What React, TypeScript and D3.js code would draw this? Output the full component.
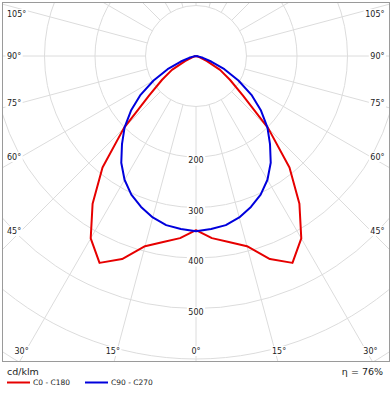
import React from 'react';
import * as d3 from 'd3';

// Gamma angles (degrees from nadir) of the measured data
const gammaAngles = [0, 5, 10, 15, 20, 25, 30, 35, 40, 45, 50, 55, 60, 65, 70, 75, 80, 85, 90];
// C0 - C180 plane (cd/klm)
const c0c180 = [345, 362, 374, 390, 428, 452, 417, 357, 288, 202, 121, 82, 55, 24, 8, 2, 0, 0, 0];
// C90 - C270 plane (cd/klm)
const c90c270 = [347, 344, 340, 331, 318, 303, 283, 258, 228, 200, 168, 134, 97, 62, 32, 14, 4, 0, 0];

const gridCircles = [100, 200, 300, 400, 500, 600, 700, 800];
const valueLabels = [200, 300, 400, 500];
const spokeAngles = [0, 15, 30, 45, 60, 75, 90, 105, 120, 135, 150, 165, 180, 195, 210, 225, 240, 255, 270, 285, 300, 315, 330, 345];
const angleLabels = [0, 15, 30, 45, 60, 75, 90, 105];
const legendItems = ['C0 - C180', 'C90 - C270'];
const unitLabel = 'cd/klm';
const etaLabel = 'η = 76%';

const W = 392;
const H = 400;
const cx = 196;
const cy = 56;
const frame = { x0: 2.5, y0: 2.5, x1: 389.5, y1: 361.5 };
const inset = { x0: 21, x1: 371, y0: 14, y1: 351 };
const FONT = "'DejaVu Sans', Verdana, sans-serif";
const RED = '#e60000';
const BLUE = '#0000dc';
const GRID = '#dcdcdc';
const TEXT = '#222';

const rad = Math.PI / 180;
const r = d3.scaleLinear().domain([0, 100]).range([0, 50.5]);

function curvePath(vals: number[]) {
  const left = gammaAngles.map((g, i) => [Math.PI + g * rad, r(vals[i])] as [number, number]).reverse();
  const right = gammaAngles.slice(1).map((g, i) => [Math.PI - g * rad, r(vals[i + 1])] as [number, number]);
  const line = d3.lineRadial<[number, number]>().angle(d => d[0]).radius(d => d[1]).curve(d3.curveLinear);
  return line([...left, ...right]) || '';
}

function angleLabelPos(g: number, side: number) {
  const dx = Math.sin(g * rad) * side;
  const dy = Math.cos(g * rad);
  let best = Infinity;
  let edge = '';
  if (dy > 1e-9) { const t = (inset.y1 - cy) / dy; if (t < best) { best = t; edge = 'bottom'; } }
  if (dy < -1e-9) { const t = (inset.y0 - cy) / dy; if (t < best) { best = t; edge = 'top'; } }
  if (dx < -1e-9) { const t = (inset.x0 - cx) / dx; if (t < best) { best = t; edge = 'side'; } }
  if (dx > 1e-9) { const t = (inset.x1 - cx) / dx; if (t < best) { best = t; edge = 'side'; } }
  const px = cx + dx * best;
  const py = cy + dy * best;
  if (edge === 'bottom') {
    if (g === 0) return { x: cx, y: inset.y1, anchor: 'middle' };
    return { x: px - side * 3, y: inset.y1, anchor: side < 0 ? 'end' : 'start' };
  }
  return { x: side < 0 ? 7 : 384.5, y: Math.max(py, inset.y0), anchor: side < 0 ? 'start' : 'end' };
}

function textWidth(s: string, size: number) {
  let w = 0;
  for (const ch of s) {
    if (/[0-9]/.test(ch)) w += 0.636;
    else if (ch === '°') w += 0.5;
    else w += 0.6;
  }
  return w * size;
}

export default function App() {
  const labels: { text: string; x: number; y: number; anchor: string }[] = [];
  angleLabels.forEach(g => {
    const sides = g === 0 ? [1] : [-1, 1];
    sides.forEach(s => {
      const p = angleLabelPos(g, s);
      labels.push({ text: `${g}°`, ...p });
    });
  });

  return (
    <svg width={W} height={H} style={{ position: 'absolute', left: 0, top: 0, background: '#fff' }} fontFamily={FONT}>
      <defs>
        <clipPath id="plotClip">
          <rect x={frame.x0} y={frame.y0} width={frame.x1 - frame.x0} height={frame.y1 - frame.y0} />
        </clipPath>
      </defs>
      <rect x={0} y={0} width={W} height={H} fill="#fff" />
      <g clipPath="url(#plotClip)">
        <g transform={`translate(${cx},${cy})`}>
          {gridCircles.map(v => (
            <circle key={v} r={r(v)} fill="none" stroke={GRID} strokeWidth={1} />
          ))}
          {spokeAngles.map(a => {
            const inner = r(100);
            const outer = r(900);
            const dx = Math.sin(a * rad);
            const dy = Math.cos(a * rad);
            return (
              <line key={a} x1={dx * inner} y1={dy * inner} x2={dx * outer} y2={dy * outer} stroke={GRID} strokeWidth={1} />
            );
          })}
        </g>
        {labels.map((l, i) => {
          const w = textWidth(l.text, 8);
          const x0 = l.anchor === 'start' ? l.x : l.anchor === 'end' ? l.x - w : l.x - w / 2;
          return <rect key={'lb' + i} x={x0 - 1.5} y={l.y - 5} width={w + 3} height={10} fill="#fff" />;
        })}
        {valueLabels.map(v => {
          const w = textWidth(String(v), 8);
          return <rect key={'vb' + v} x={cx - w / 2 - 1.5} y={cy + r(v) - 1.5} width={w + 3} height={10} fill="#fff" />;
        })}
        {labels.map((l, i) => (
          <text key={'lt' + i} x={l.x} y={l.y} dy="0.35em" fontSize={8} fill={TEXT} textAnchor={l.anchor as any}>{l.text}</text>
        ))}
        {valueLabels.map(v => (
          <text key={'vt' + v} x={cx} y={cy + r(v) + 3.5} dy="0.35em" fontSize={8} fill={TEXT} textAnchor="middle">{v}</text>
        ))}
        <g transform={`translate(${cx},${cy})`}>
          <path d={curvePath(c0c180)} fill="none" stroke={RED} strokeWidth={2} strokeLinejoin="round" />
          <path d={curvePath(c90c270)} fill="none" stroke={BLUE} strokeWidth={2} strokeLinejoin="round" />
        </g>
      </g>
      <rect x={frame.x0} y={frame.y0} width={frame.x1 - frame.x0} height={frame.y1 - frame.y0} fill="none" stroke="#9a9a9a" strokeWidth={1} />
      <text x={7} y={372} dy="0.35em" fontSize={9.5} fill={TEXT}>{unitLabel}</text>
      <text x={383} y={372} dy="0.35em" fontSize={9.5} fill={TEXT} textAnchor="end">{etaLabel}</text>
      {legendItems.map((name, i) => {
        const x = 7 + i * 78;
        return (
          <g key={name}>
            <line x1={x} x2={x + 23} y1={382.5} y2={382.5} stroke={i === 0 ? RED : BLUE} strokeWidth={2} />
            <text x={x + 26} y={382.5} dy="0.35em" fontSize={7.5} fill={TEXT}>{name}</text>
          </g>
        );
      })}
    </svg>
  );
}
